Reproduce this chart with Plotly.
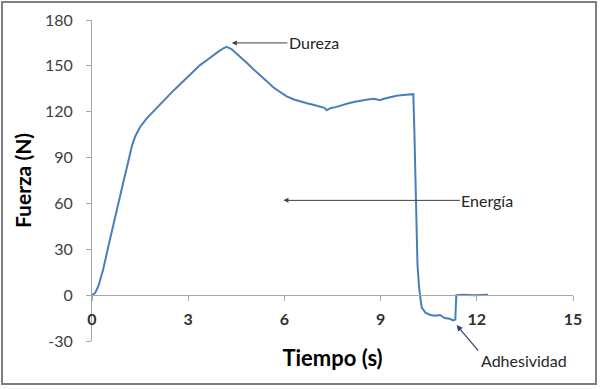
import plotly.graph_objects as go

# Data
tiempo = [0, 0.1, 0.2, 0.35, 0.5, 0.65, 0.82, 1.0, 1.15, 1.25, 1.35, 1.5, 1.7, 1.9, 2.1,
          2.3, 2.5, 2.7, 2.95, 3.15, 3.37, 3.6, 3.78, 3.95, 4.1, 4.2, 4.35, 4.6, 4.85,
          5.05, 5.25, 5.45, 5.65, 5.85, 6.07, 6.3, 6.5, 6.7, 6.9, 7.1, 7.25, 7.32, 7.45,
          7.6, 7.8, 8.0, 8.2, 8.4, 8.6, 8.8, 8.98, 9.1, 9.3, 9.5, 9.7, 9.9, 10.02, 10.05,
          10.1, 10.15, 10.2, 10.28, 10.4, 10.55, 10.7, 10.85, 11.0, 11.15, 11.27, 11.33,
          11.36, 11.6, 11.9, 12.35]
fuerza = [0, 1.5, 6, 17, 31, 45, 61, 76, 89, 98, 104, 110, 115.5, 120, 124.5,
          129, 133, 137, 142, 146, 150.5, 154, 157, 159.5, 161.5, 162.4, 161, 156.5, 151.5,
          147.5, 144, 140, 136, 133, 130, 128, 126.5, 125.5, 124.5, 123.5, 122.5, 121, 122.5,
          123, 124.5, 125.5, 126.5, 127.5, 128, 128.5, 127.5, 128.5, 129.5, 130.5, 131, 131.5, 131.5, 110,
          60, 20, 5, -8, -11.5, -13, -13.5, -13, -15, -15.5, -16.5, -16,
          0, 0.3, 0, 0.3]

x_ticks = [0, 3, 6, 9, 12, 15]
y_ticks = [-30, 0, 30, 60, 90, 120, 150, 180]
y_tick_text = ["-30", "0", "30", "60", "90", "120", "150", "180"]

# Annotation anchor points (data units)
dureza_pt = (4.36, 165)
energia_pt = (5.97, 62)
adhes_pt = (11.37, -19.6)

W, H = 600, 389
ML, MR, MT, MB = 92, 27, 20, 48
XR = [0, 15]
YR = [-30, 180]

FONT = "Lato, Carlito, Calibri, sans-serif"

fig = go.Figure()
fig.add_trace(go.Scatter(x=tiempo, y=fuerza, mode="lines",
                         line=dict(color="#4a7ebb", width=2), hoverinfo="skip",
                         showlegend=False))

pw = W - ML - MR
ph = H - MT - MB

fig.update_layout(
    width=W, height=H,
    margin=dict(l=ML, r=MR, t=MT, b=MB, pad=0),
    paper_bgcolor="white", plot_bgcolor="white",
    font=dict(family=FONT, color="#404040", size=15),
    xaxis=dict(range=XR, tickvals=x_ticks, showgrid=False, zeroline=False,
               showline=True, linecolor="#a6a6a6", linewidth=1, automargin=False,
               ticks="outside", ticklen=5, tickcolor="#a6a6a6", ticklabelstandoff=5,
               tickfont=dict(family=FONT, size=16, color="#303030", weight="bold"),
               anchor="free", position=(0 - YR[0]) / (YR[1] - YR[0]),
               title=dict(text="Tiempo (s)", standoff=23,
                          font=dict(family=FONT, size=22, color="#000000", weight="bold"))),
    yaxis=dict(range=YR, tickvals=y_ticks, ticktext=y_tick_text, showgrid=False, zeroline=False,
               showline=True, linecolor="#a6a6a6", linewidth=1, automargin=False,
               ticks="outside", ticklen=5, tickcolor="#a6a6a6", ticklabelstandoff=10,
               tickfont=dict(family=FONT, size=16, color="#404040"),
               title=dict(text="Fuerza (N)", standoff=7,
                          font=dict(family=FONT, size=21, color="#000000", weight="bold"))),
)

# Outer border of the picture
fig.add_shape(type="rect", xref="paper", yref="paper",
              x0=(2 - ML) / pw, x1=(W - 4 - ML) / pw,
              y0=-(H - 5 - (H - MB)) / ph, y1=1 + (MT - 2) / ph,
              line=dict(color="#7f7f7f", width=2), fillcolor="rgba(0,0,0,0)")

ann_font = dict(family=FONT, size=16, color="#262626")
fig.add_annotation(x=dureza_pt[0], y=dureza_pt[1], xref="x", yref="y", text="Dureza",
                   showarrow=True, ax=82, ay=0, arrowhead=2, arrowsize=1, arrowwidth=1,
                   arrowcolor="#404040", font=ann_font, xanchor="center")
fig.add_annotation(x=energia_pt[0], y=energia_pt[1], xref="x", yref="y", text="Energía",
                   showarrow=True, ax=204, ay=0, arrowhead=2, arrowsize=1, arrowwidth=1,
                   arrowcolor="#404040", font=ann_font)
fig.add_annotation(x=adhes_pt[0], y=adhes_pt[1], xref="x", yref="y", text="",
                   showarrow=True, ax=23, ay=27, arrowhead=2, arrowsize=1, arrowwidth=1.2,
                   arrowcolor="#3b3b78")
fig.add_annotation(x=adhes_pt[0], y=adhes_pt[1], xref="x", yref="y", text="Adhesividad",
                   showarrow=False, xshift=67, yshift=-35, font=ann_font)

fig.write_html("out.html", config={"displayModeBar": False},
               post_script="document.body.style.margin='0';")
